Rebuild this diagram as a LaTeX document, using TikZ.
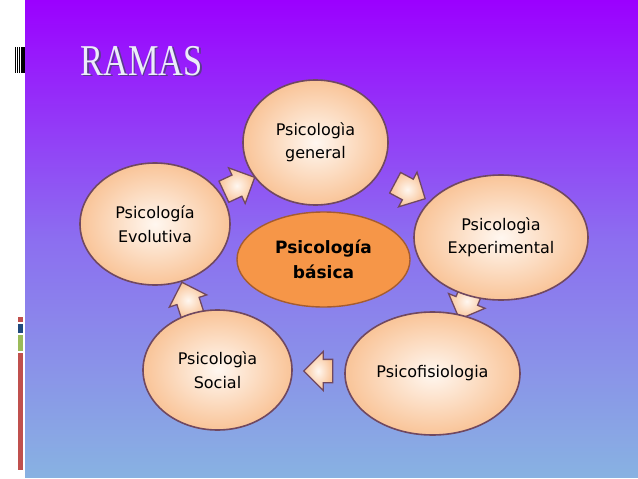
\documentclass[tikz,border=0pt]{standalone}
\usepackage{fontspec}
\setmainfont{DejaVu Sans}
\newfontfamily\titlefont{Liberation Serif}
\usetikzlibrary{shapes.geometric,shapes.arrows}
\definecolor{topc}{RGB}{155,0,255}
\definecolor{midc}{RGB}{140,110,240}
\definecolor{botc}{RGB}{136,178,226}
\definecolor{peach}{RGB}{249,196,152}
\definecolor{peachin}{RGB}{255,247,240}
\definecolor{rim}{RGB}{112,72,96}
\definecolor{orangef}{RGB}{246,150,72}
\definecolor{oranged}{RGB}{165,92,48}
\definecolor{barred}{RGB}{192,80,77}
\definecolor{barblue}{RGB}{31,73,125}
\definecolor{bargreen}{RGB}{155,187,89}
\definecolor{titlec}{RGB}{236,236,250}
\definecolor{titlesh}{RGB}{90,60,140}
\tikzset{
  branch/.style={ellipse, draw=rim, line width=1.6pt, inner color=peachin,
    outer color=peach, align=center, inner sep=0pt,
    font=\fontsize{16}{23.5}\selectfont},
  core/.style={ellipse, draw=oranged, line width=1.4pt, fill=orangef,
    align=center, inner sep=0pt, font=\bfseries\fontsize{17}{25}\selectfont},
  blockarr/.style={single arrow, draw=rim, line width=1.3pt, inner color=peachin,
    outer color=peach, minimum height=34pt, inner xsep=0pt, inner ysep=11pt,
    single arrow head extend=8pt, single arrow head indent=0pt}
}
\begin{document}
\begin{tikzpicture}[x=1pt,y=-1pt]
\useasboundingbox (0,0) rectangle (638,479);
\fill[white] (0,0) rectangle (638,479);
\shade[top color=topc, bottom color=botc, middle color=midc, draw=none] (25,0) rectangle (638,477);
% barcode
\foreach \xa/\w in {15/1.2,17/0.8,18.6/1.4,20.6/0.7,21.8/1.2,23.4/0.8,24.4/0.6}
  \fill[black] (\xa,47) rectangle ++(\w,26);
% colour bars
\fill[barred] (18,317) rectangle (23,322);
\fill[barblue] (18,323.5) rectangle (23,333);
\fill[bargreen] (18,335) rectangle (23,351);
\fill[barred] (18,352.5) rectangle (23,470);
% title
\node[text=titlesh, font=\titlefont\fontsize{44}{44}\selectfont, xscale=0.78, anchor=west] (titsh) at (79.5,62.5) {RAMAS};
\node[text=titlec, font=\titlefont\fontsize{44}{44}\selectfont, xscale=0.78, anchor=west] (tit) at (78,61) {RAMAS};
% arrows
\node[blockarr, rotate=25] (a1) at (234,187) {};
\node[blockarr, rotate=-28] (a2) at (405,188) {};
\node[blockarr, rotate=-112] (a3) at (468,298) {};
\node[blockarr, rotate=180, minimum height=29pt] (a4) at (324,371) {};
\node[blockarr, rotate=108] (a5) at (189,304) {};
% ellipses
\node[branch, minimum width=145pt, minimum height=125pt] (gen) at (315.5,142.5) {Psicologìa\\general};
\node[branch, minimum width=174pt, minimum height=125pt] (exp) at (501,237.5) {Psicologìa\\Experimental};
\node[branch, minimum width=175pt, minimum height=123pt] (fis) at (432.5,373.5) {Psicofisiologia};
\node[branch, minimum width=149pt, minimum height=120pt] (soc) at (217.5,370) {Psicologìa\\Social};
\node[branch, minimum width=150pt, minimum height=122pt] (evo) at (155,224) {Psicología\\Evolutiva};
\node[core, minimum width=173pt, minimum height=95pt] (bas) at (323.5,259.5) {Psicología\\básica};
\end{tikzpicture}
\end{document}
